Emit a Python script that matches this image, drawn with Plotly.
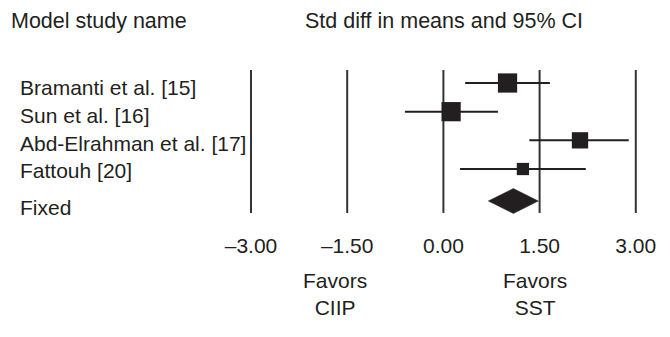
import plotly.graph_objects as go

# ---- data ----
studies = ["Bramanti et al. [15]", "Sun et al. [16]", "Abd-Elrahman et al. [17]", "Fattouh [20]"]
smd = [1.00, 0.12, 2.13, 1.24]
ci_lower = [0.34, -0.60, 1.34, 0.26]
ci_upper = [1.66, 0.85, 2.89, 2.22]
weights = [32, 32, 23, 13]

fixed_label = "Fixed"
fixed_est = 1.09
fixed_lower = 0.70
fixed_upper = 1.48

tick_vals = [-3.0, -1.5, 0.0, 1.5, 3.0]
tick_text = ["\u20133.00", "\u20131.50", "0.00", "1.50", "3.00"]

header_left = "Model study name"
header_right = "Std diff in means and 95% CI"
favors_left = "Favors<br>CIIP"
favors_right = "Favors<br>SST"

# ---- layout geometry (pixels) ----
W, H = 670, 337
L, R, T, B = 228, 14, 60, 106
X0_PX, X_SCALE = 443.4, 64.13       # pixel of x=0 and px per unit
ROW1_PX, ROW_STEP = 83.0, 28.67      # pixel of first row and px per row
PLOT_W = W - L - R
PLOT_H = H - T - B

def px_to_x(p):
    return (p - X0_PX) / X_SCALE

def px_to_y(p):
    return 1 + (p - ROW1_PX) / ROW_STEP

def px_to_paper_x(p):
    return (p - L) / PLOT_W

def px_to_paper_y(p):
    return (H - B - p) / PLOT_H

INK = "#231f20"
FONT = "Liberation Sans, Arial, Helvetica, sans-serif"
FS = 21

rows = [i + 1 for i in range(len(studies))]
fixed_row = px_to_y(201)

fig = go.Figure()

# vertical reference lines at tick values
vx, vy = [], []
for t in tick_vals:
    vx += [t, t, None]
    vy += [px_to_y(70), px_to_y(213), None]
fig.add_trace(go.Scatter(x=vx, y=vy, mode="lines",
                         line=dict(color="#333333", width=2),
                         hoverinfo="skip", showlegend=False))

# confidence interval lines
cx, cy = [], []
for lo, hi, r in zip(ci_lower, ci_upper, rows):
    cx += [lo, hi, None]
    cy += [r, r, None]
fig.add_trace(go.Scatter(x=cx, y=cy, mode="lines",
                         line=dict(color=INK, width=2),
                         hoverinfo="skip", showlegend=False))

# point estimates (square size by weight)
sizes = [3.4 * w ** 0.5 for w in weights]
fig.add_trace(go.Scatter(x=smd, y=rows, mode="markers",
                         marker=dict(symbol="square", size=sizes, color=INK,
                                     opacity=1, line=dict(width=0)),
                         showlegend=False))

# summary diamond
half_h = 12.5 / ROW_STEP
fig.add_trace(go.Scatter(
    x=[fixed_lower, fixed_est, fixed_upper, fixed_est, fixed_lower],
    y=[fixed_row, fixed_row - half_h, fixed_row, fixed_row + half_h, fixed_row],
    mode="lines", fill="toself", fillcolor=INK,
    line=dict(color=INK, width=0.5), showlegend=False))

def label(x_px, y_px, text, anchor="left", size=FS):
    return dict(x=px_to_paper_x(x_px), y=px_to_paper_y(y_px), xref="paper", yref="paper",
                text=text, showarrow=False, xanchor=anchor, yanchor="middle",
                font=dict(size=size, color=INK, family=FONT))

annotations = []
study_px = [87, 115, 143, 170]
for name, yp in zip(studies, study_px):
    annotations.append(label(18, yp, name))
annotations.append(label(18, 207, fixed_label))
annotations.append(label(9, 21, header_left, size=21.5))
annotations.append(label(303, 21, header_right, size=21.5))
annotations.append(label(335, 293.5, favors_left, anchor="center"))
annotations.append(label(535, 293.5, favors_right, anchor="center"))

fig.update_layout(
    width=W, height=H,
    margin=dict(l=L, r=R, t=T, b=B, pad=0),
    paper_bgcolor="white", plot_bgcolor="white",
    showlegend=False,
    annotations=annotations,
    xaxis=dict(range=[px_to_x(L), px_to_x(W - R)], tickvals=tick_vals, ticktext=tick_text,
               showgrid=False, zeroline=False, showline=False, ticks="",
               tickfont=dict(size=FS, color=INK, family=FONT), fixedrange=True),
    yaxis=dict(range=[px_to_y(H - B), px_to_y(T)], showgrid=False, zeroline=False,
               showline=False, showticklabels=False, ticks="", fixedrange=True),
)

fig.write_html("out.html", config={"displayModeBar": False},
               post_script="document.body.style.margin='0';")
